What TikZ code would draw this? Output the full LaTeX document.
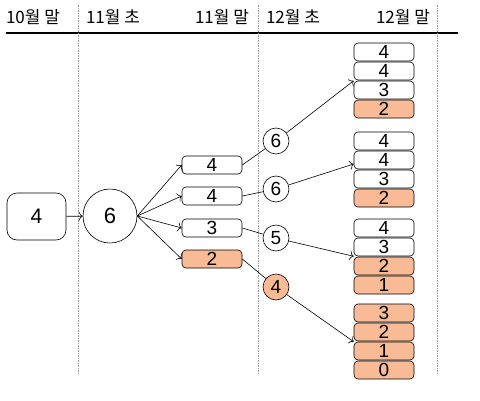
\documentclass[tikz,border=0pt]{standalone}
\usepackage{fontspec}
\usetikzlibrary{arrows.meta}
\setmainfont{Liberation Sans}
\newfontfamily\krfont{Noto Sans CJK KR}
\definecolor{cellorange}{RGB}{248,187,150}
\begin{document}
\begin{tikzpicture}[x=1pt,y=-1pt,line width=0.6pt,>={To[length=4pt,width=9pt]},
  head/.style={font=\krfont\fontsize{17}{17}\selectfont, inner sep=0pt},
  cell/.style={draw, rounded corners=4pt, minimum width=60pt, minimum height=18pt, inner sep=0pt, font=\fontsize{19}{19}\selectfont},
  hot/.style={cell, fill=cellorange},
  state/.style={draw, circle, minimum size=26pt, inner sep=0pt, font=\fontsize{19}{19}\selectfont},
  guide/.style={draw=gray!80, dash pattern=on 1.5pt off 1pt, line width=0.4pt}]
\useasboundingbox (0,0) rectangle (480,400);
% time axis
\node[head] (h1) at (33,17) {10월 말};
\node[head] (h2) at (113,17) {11월 초};
\node[head] (h3) at (222,17) {11월 말};
\node[head] (h4) at (293,17) {12월 초};
\node[head] (h5) at (403,17) {12월 말};
\draw[line width=1.6pt] (6,33) -- (458,33);
\draw[guide] (78,5) -- (78,375);
\draw[guide] (258,5) -- (258,375);
\draw[guide] (437,5) -- (437,375);
% start
\node[draw, rounded corners=10pt, minimum width=59pt, minimum height=47pt, font=\fontsize{21}{21}\selectfont] (start) at (36.5,216.5) {4};
\node[draw, circle, minimum size=54pt, inner sep=0pt, font=\fontsize{22}{22}\selectfont] (big) at (110,216) {6};
\draw[->] (start) -- (big);
% 11 end
\node[cell] (m1) at (212,165) {4};
\node[cell] (m2) at (212,196) {4};
\node[cell] (m3) at (212,228) {3};
\node[hot] (m4) at (212,259) {2};
\draw[->] (big.east) -- (m1.west);
\draw[->] (big.east) -- (m2.west);
\draw[->] (big.east) -- (m3.west);
\draw[->] (big.east) -- (m4.west);
% 12 begin
\node[state] (c1) at (276,141) {6};
\node[state] (c2) at (276,189) {6};
\node[state] (c3) at (276,238) {5};
\node[state, fill=cellorange] (c4) at (276,287) {4};
\draw (m1.east) -- (c1);
\draw (m2.east) -- (c2);
\draw (m3.east) -- (c3);
\draw (m4.east) -- (c4);
% 12 end
\node[cell] (s1a) at (384,52) {4};
\node[cell] (s1b) at (384,71) {4};
\node[cell] (s1c) at (384,90) {3};
\node[hot] (s1d) at (384,109) {2};
\node[cell] (s2a) at (384,141) {4};
\node[cell] (s2b) at (384,160) {4};
\node[cell] (s2c) at (384,179) {3};
\node[hot] (s2d) at (384,198) {2};
\node[cell] (s3a) at (384,228) {4};
\node[cell] (s3b) at (384,247) {3};
\node[hot] (s3c) at (384,266) {2};
\node[hot] (s3d) at (384,285) {1};
\node[hot] (s4a) at (384,313) {3};
\node[hot] (s4b) at (384,332) {2};
\node[hot] (s4c) at (384,351) {1};
\node[hot] (s4d) at (384,370) {0};
\draw[->] (c1) -- (s1c.north west);
\draw[->] (c2) -- ([yshift=-4pt]s2b.west);
\draw[->] (c3) -- (s3b.south west);
\draw[->] (c4) -- (s4c.north west);
\end{tikzpicture}
\end{document}
